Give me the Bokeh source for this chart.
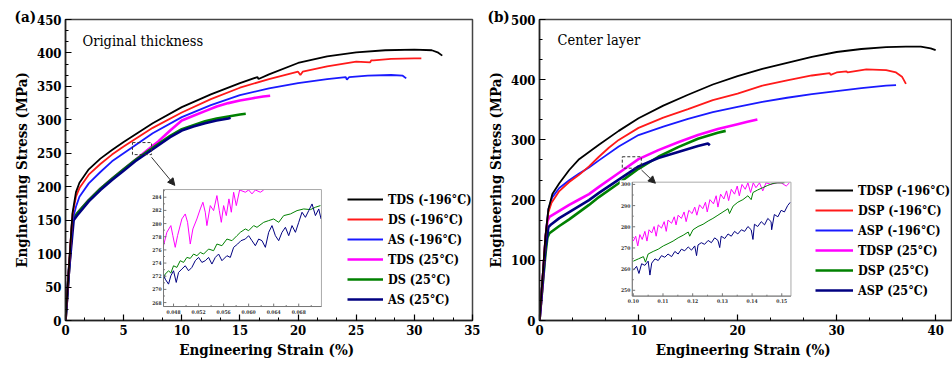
from bokeh.plotting import figure
from bokeh.layouts import row
from bokeh.models import (Range1d, Legend, LegendItem, Label, Arrow, NormalHead,
                          SingleIntervalTicker, Title)
from bokeh.core.properties import value
from bokeh.embed import file_html
from bokeh.resources import INLINE

SERIF = "DejaVu Serif Condensed"

# ---------------- data: panel (a) Original thickness ----------------
a_labels = ["TDS (-196°C)", "DS (-196°C)", "AS (-196°C)", "TDS (25°C)", "DS (25°C)", "AS (25°C)"]
a_tds196_x = [0, 0.3, 0.6, 0.9, 1.2, 2, 3, 4, 5, 7.5, 10, 12.5, 15, 16.5, 16.6, 17.5, 20, 22.5, 25, 27.5, 30, 31.5, 32.0, 32.4]
a_tds196_y = [0, 80, 160, 192, 206, 226, 242, 255, 267, 295, 319, 338, 355, 364, 361, 368, 385, 395, 401, 404, 405, 404, 401, 396]
a_ds196_x = [0, 0.3, 0.6, 0.9, 1.2, 2, 3, 4, 5, 7.5, 10, 12.5, 15, 17.5, 20, 20.2, 20.4, 22.5, 25, 26.2, 26.3, 26.5, 28, 30, 30.6]
a_ds196_y = [0, 80, 158, 185, 198, 218, 234, 248, 260, 288, 311, 331, 348, 361, 372, 367, 372, 380, 387, 386, 389, 389, 391, 392, 392]
a_as196_x = [0, 0.3, 0.6, 0.9, 1.2, 2, 3, 4, 5, 7.5, 10, 12.5, 15, 17.5, 20, 22.5, 24.1, 24.2, 24.4, 26, 28, 29, 29.3]
a_as196_y = [0, 75, 150, 170, 185, 205, 222, 238, 250, 280, 304, 322, 337, 347, 355, 361, 364, 360, 364, 366, 367, 366, 362]
a_tds25_x = [0, 0.3, 0.6, 0.8, 1, 2, 3, 4, 5, 6, 7, 8, 9, 10, 11, 12, 13, 14, 15, 16, 17, 17.6]
a_tds25_y = [0, 75, 150, 155, 160, 180, 197, 212, 226, 240, 254, 268, 284, 299, 306, 313, 320, 325, 329, 332, 335, 336]
a_ds25_x = [0, 0.3, 0.6, 0.8, 1, 2, 3, 4, 5, 6, 7, 8, 9, 10, 11, 12, 13, 14, 15, 15.5]
a_ds25_y = [0, 75, 150, 155, 160, 180, 197, 212, 226, 240, 252, 264, 276, 286, 292, 298, 302, 305, 308, 309]
a_as25_x = [0, 0.3, 0.7, 1, 2, 3, 4, 5, 6, 7, 8, 9, 10, 11, 12, 13, 14, 14.2]
a_as25_y = [0, 75, 150, 157, 178, 195, 210, 224, 238, 250, 262, 274, 284, 290, 295, 299, 302, 303]

# inset (a)
ai_magenta_x = [0.04640, 0.04693, 0.04757, 0.04789, 0.04827, 0.04864, 0.04933, 0.04987, 0.05024, 0.05067,
                0.05109, 0.05173, 0.05227, 0.05269, 0.05307, 0.05333, 0.05387, 0.05440, 0.05493, 0.05531,
                0.05563, 0.05600, 0.05643, 0.05685, 0.05723, 0.05760, 0.05803, 0.05856, 0.05947, 0.06000,
                0.06053, 0.06107, 0.06187, 0.06240]
ai_magenta_y = [276.64, 278.67, 279.69, 278.16, 276.39, 278.16, 280.70, 281.46, 280.19, 276.89,
                279.18, 280.70, 282.22, 283.24, 281.72, 279.69, 282.73, 281.97, 284.25, 281.97,
                280.19, 282.73, 281.21, 283.75, 281.72, 284.76, 282.73, 285.1, 284.76, 285.1,
                284.51, 285.1, 284.76, 285.1]
ai_green_x = [0.04640, 0.04667, 0.04720, 0.04757, 0.04800, 0.04853, 0.04907, 0.04960, 0.05013, 0.05067,
              0.05120, 0.05173, 0.05227, 0.05280, 0.05360, 0.05440, 0.05493, 0.05573, 0.05653, 0.05733,
              0.05813, 0.05867, 0.05947, 0.06000, 0.06080, 0.06133, 0.06240, 0.06320, 0.06400, 0.06480,
              0.06560, 0.06667, 0.06773, 0.06880, 0.06987, 0.07067, 0.07147]
ai_green_y = [271.56, 272.32, 272.83, 272.48, 273.59, 273.34, 274.36, 274.10, 274.86, 274.71,
              275.37, 275.12, 275.62, 275.37, 276.13, 275.88, 276.89, 276.64, 277.65, 277.40,
              278.16, 278.67, 279.18, 278.92, 279.69, 279.43, 280.19, 280.45, 280.70, 280.19,
              281.21, 281.46, 281.97, 282.22, 282.12, 282.48, 282.73]
ai_navy_x = [0.04640, 0.04667, 0.04720, 0.04757, 0.04800, 0.04843, 0.04880, 0.04933, 0.04987, 0.05040,
             0.05093, 0.05147, 0.05200, 0.05253, 0.05307, 0.05360, 0.05413, 0.05467, 0.05520, 0.05573,
             0.05653, 0.05707, 0.05760, 0.05824, 0.05877, 0.05947, 0.06000, 0.06053, 0.06107, 0.06160,
             0.06213, 0.06267, 0.06320, 0.06373, 0.06427, 0.06480, 0.06533, 0.06587, 0.06640, 0.06693,
             0.06747, 0.06800, 0.06853, 0.06907, 0.06960, 0.07013, 0.07067, 0.07120, 0.07157]
ai_navy_y = [272.32, 271.56, 270.80, 272.07, 272.83, 271.06, 272.58, 273.09, 273.59, 272.83,
             273.34, 274.36, 274.86, 274.10, 274.36, 274.86, 273.85, 274.86, 275.37, 274.36,
             275.12, 274.86, 276.39, 276.89, 277.40, 277.65, 278.16, 277.40, 276.64, 277.65,
             277.40, 276.39, 278.67, 279.69, 278.16, 277.40, 278.67, 279.43, 278.16, 279.69,
             278.67, 280.19, 281.72, 280.95, 281.97, 282.98, 281.21, 282.22, 280.70]
ai_xticks = [0.048, 0.052, 0.056, 0.060, 0.064, 0.068]
ai_yticks = [268, 270, 272, 274, 276, 278, 280, 282, 284]

# ---------------- data: panel (b) Center layer ----------------
b_labels = ["TDSP (-196°C)", "DSP (-196°C)", "ASP (-196°C)", "TDSP (25°C)", "DSP (25°C)", "ASP (25°C)"]
b_tdsp196_x = [0, 0.3, 0.6, 0.9, 1.3, 2, 3, 4, 5, 6, 8, 10, 12.5, 15, 17.5, 20, 22.5, 25, 27.5, 30, 32.5, 35, 37, 38.5, 39.5, 40]
b_tdsp196_y = [0, 70, 140, 185, 210, 228, 250, 268, 280, 292, 315, 336, 357, 375, 392, 406, 418, 428, 438, 446, 451, 454, 455, 455, 452, 449]
b_dsp196_x = [0, 0.3, 0.6, 0.9, 1.2, 2, 3, 4, 5, 6, 7, 8, 10, 12.5, 15, 17.5, 20, 22.5, 25, 27.5, 29.3, 29.4, 30, 31, 31.1, 33, 35, 36, 36.6, 37.0]
b_dsp196_y = [0, 70, 140, 180, 195, 215, 230, 242, 256, 272, 287, 300, 320, 337, 351, 366, 377, 390, 399, 407, 411, 408, 412, 414, 412, 417, 416, 412, 405, 393]
b_asp196_x = [0, 0.3, 0.6, 0.9, 1.3, 2, 3, 4, 5, 6, 8, 10, 12.5, 15, 17.5, 20, 22.5, 25, 27.5, 30, 32.5, 35, 36]
b_asp196_y = [0, 70, 140, 185, 205, 220, 233, 244, 254, 266, 289, 308, 322, 335, 346, 355, 363, 370, 376, 381, 386, 390, 391]
b_tdsp25_x = [0, 0.3, 0.6, 0.8, 1, 2, 3, 4, 5, 6, 8, 10, 12, 14, 16, 18, 20, 21, 22]
b_tdsp25_y = [0, 60, 130, 165, 172, 182, 192, 201, 210, 222, 245, 268, 283, 296, 308, 318, 326, 330, 334]
b_dsp25_x = [0, 0.3, 0.6, 0.8, 1, 2, 3, 4, 5, 6, 8, 10, 12, 14, 16, 18, 18.8]
b_dsp25_y = [0, 55, 110, 138, 145, 157, 168, 180, 192, 205, 228, 252, 272, 288, 302, 312, 315]
b_asp25_x = [0, 0.3, 0.6, 0.9, 1.2, 2, 3, 4, 5, 6, 8, 10, 12, 14, 15, 16, 17, 17.2]
b_asp25_y = [0, 60, 120, 155, 160, 170, 180, 190, 200, 212, 234, 256, 270, 280, 285, 290, 294, 291]

# inset (b)
bi_magenta_x = [0.1000, 0.1008, 0.1015, 0.1022, 0.1030, 0.1039, 0.1046, 0.1053, 0.1062, 0.1070,
                0.1077, 0.1084, 0.1095, 0.1104, 0.1111, 0.1117, 0.1129, 0.1138, 0.1144, 0.1151,
                0.1162, 0.1171, 0.1178, 0.1187, 0.1198, 0.1207, 0.1214, 0.1223, 0.1234, 0.1243,
                0.1249, 0.1258, 0.1270, 0.1279, 0.1285, 0.1294, 0.1305, 0.1314, 0.1321, 0.1330,
                0.1341, 0.1350, 0.1357, 0.1366, 0.1377, 0.1386, 0.1395, 0.1404, 0.1413, 0.1425,
                0.1436, 0.1447, 0.1464, 0.1481, 0.1498, 0.1515, 0.1526]
bi_magenta_y = [273.24, 275.54, 270.95, 276.30, 274.01, 277.83, 273.24, 278.59, 277.06, 280.12,
                275.54, 280.89, 279.36, 282.42, 277.83, 283.18, 281.65, 284.71, 280.89, 285.47,
                283.94, 287.00, 282.42, 287.77, 286.24, 289.30, 285.47, 290.37, 288.53, 291.59,
                287.00, 292.81, 290.83, 294.65, 289.30, 295.41, 293.12, 296.94, 292.35, 297.71,
                295.41, 299.24, 294.65, 300.00, 297.71, 300.76, 296.18, 300.76, 298.47, 300.76,
                296.94, 300.76, 300.00, 300.76, 300.76, 299.24, 300.76]
bi_green_x = [0.1000, 0.1017, 0.1034, 0.1041, 0.1050, 0.1067, 0.1084, 0.1101, 0.1117, 0.1134,
              0.1151, 0.1168, 0.1185, 0.1190, 0.1201, 0.1218, 0.1235, 0.1252, 0.1268, 0.1285,
              0.1302, 0.1319, 0.1324, 0.1336, 0.1352, 0.1369, 0.1386, 0.1397, 0.1403, 0.1419,
              0.1436, 0.1453, 0.1470, 0.1487, 0.1509]
bi_green_y = [263.76, 264.83, 265.90, 263.30, 267.13, 268.35, 269.42, 270.95, 272.02, 273.24,
              274.77, 276.00, 277.52, 275.54, 278.59, 280.12, 281.19, 282.72, 283.94, 285.47,
              287.00, 288.53, 286.24, 289.76, 291.59, 292.81, 294.65, 292.81, 296.18, 297.40,
              298.47, 299.54, 300.46, 300.76, 300.76]
bi_navy_x = [0.1000, 0.1011, 0.1019, 0.1028, 0.1039, 0.1050, 0.1056, 0.1062, 0.1073, 0.1084,
             0.1095, 0.1106, 0.1117, 0.1129, 0.1140, 0.1151, 0.1162, 0.1173, 0.1185, 0.1196,
             0.1207, 0.1213, 0.1218, 0.1229, 0.1240, 0.1252, 0.1263, 0.1274, 0.1285, 0.1291,
             0.1296, 0.1308, 0.1319, 0.1330, 0.1341, 0.1352, 0.1364, 0.1375, 0.1386, 0.1397,
             0.1403, 0.1408, 0.1419, 0.1431, 0.1442, 0.1453, 0.1464, 0.1466, 0.1475, 0.1487,
             0.1498, 0.1509, 0.1520, 0.1529]
bi_navy_y = [259.48, 261.31, 257.95, 262.54, 261.77, 263.76, 257.19, 262.84, 264.83, 264.07,
             266.36, 265.60, 267.13, 265.90, 268.35, 267.13, 269.42, 268.65, 270.49, 268.96,
             270.95, 266.36, 271.41, 272.48, 271.71, 273.55, 272.48, 274.77, 273.55, 270.18,
             275.54, 274.46, 276.61, 275.54, 277.83, 276.61, 278.59, 277.83, 280.12, 278.59,
             274.01, 281.19, 280.12, 282.42, 280.89, 283.94, 282.42, 278.59, 285.78, 284.71,
             287.77, 287.00, 290.06, 291.59]
bi_xticks = [0.10, 0.11, 0.12, 0.13, 0.14, 0.15]
bi_yticks = [250, 260, 270, 280, 290, 300]

COLORS = ["#000000", "#ff1a1a", "#1a1aff", "#ff00ff", "#008000", "#000080"]
WIDTHS = [1.8, 1.8, 1.8, 2.6, 2.6, 2.6]


def base_fig(width, left, right, bottom, xr, yr, xint, yint, tag, tag_offset):
    p = figure(width=width, height=370, x_range=Range1d(*xr), y_range=Range1d(*yr),
               output_backend="svg", toolbar_location=None,
               min_border_left=left, min_border_right=right, min_border_top=19,
               min_border_bottom=bottom, background_fill_color="white",
               border_fill_color="white")
    p.title = Title(text=tag, align="left", offset=tag_offset, standoff=-13,
                    text_font=SERIF, text_font_style="bold", text_font_size="15px",
                    text_color="black", vertical_align="bottom")
    p.xgrid.visible = False
    p.ygrid.visible = False
    p.xaxis.ticker = SingleIntervalTicker(interval=xint, num_minor_ticks=3)
    p.yaxis.ticker = SingleIntervalTicker(interval=yint, num_minor_ticks=3)
    for ax in (p.xaxis[0], p.yaxis[0]):
        ax.major_tick_in = 6
        ax.major_tick_out = 0
        ax.minor_tick_in = 3
        ax.minor_tick_out = 0
        ax.axis_line_width = 1.5
        ax.major_tick_line_width = 1.2
        ax.minor_tick_line_width = 1
        ax.axis_line_color = "#222222"
        ax.major_label_text_font = SERIF
        ax.major_label_text_font_style = "bold"
        ax.major_label_text_font_size = "13px"
        ax.major_label_text_color = "black"
        ax.axis_label_text_font = SERIF
        ax.axis_label_text_font_style = "bold"
        ax.axis_label_text_font_size = "15px"
        ax.axis_label_text_color = "black"
        ax.major_label_standoff = 4
        ax.axis_label_standoff = 3
    p.xaxis.axis_label = "Engineering Strain  (%)"
    p.yaxis.axis_label = "Engineering Stress (MPa)"
    p.outline_line_color = "#444444"
    p.outline_line_width = 1.5
    p.outline_line_alpha = 1
    return p


def draw_inset(p, bg, tgt_x, tgt_y, src_x, src_y, curves, xticks, yticks, xfmt, xminor, yminor, fs):
    p.quad(left=bg[0], right=bg[1], bottom=bg[2], top=bg[3], fill_color="white", line_color=None)
    sub = p.subplot(x_source=Range1d(*src_x), y_source=Range1d(*src_y),
                    x_target=Range1d(*tgt_x), y_target=Range1d(*tgt_y))
    for (cx, cy), col in curves:
        sub.line(cx, cy, line_color=col, line_width=1)
    sub.quad(left=src_x[0], right=src_x[1], bottom=src_y[0], top=src_y[1],
             fill_color=None, line_color="#aaaaaa", line_width=1)
    sub.segment(x0=[src_x[0], src_x[0]], y0=[src_y[0], src_y[0]],
                x1=[src_x[0], src_x[1]], y1=[src_y[1], src_y[0]], line_color="#777777", line_width=1)
    dx = (src_x[1] - src_x[0]) * 0.018
    dy = (src_y[1] - src_y[0]) * 0.025
    sub.segment(x0=xticks, y0=[src_y[0]] * len(xticks), x1=xticks, y1=[src_y[0] + dy] * len(xticks),
                line_color="#777777", line_width=1)
    sub.segment(x0=xminor, y0=[src_y[0]] * len(xminor), x1=xminor, y1=[src_y[0] + dy * 0.5] * len(xminor),
                line_color="#777777", line_width=1)
    sub.segment(x0=[src_x[0]] * len(yticks), y0=yticks, x1=[src_x[0] + dx] * len(yticks), y1=yticks,
                line_color="#777777", line_width=1)
    sub.segment(x0=[src_x[0]] * len(yminor), y0=yminor, x1=[src_x[0] + dx * 0.5] * len(yminor), y1=yminor,
                line_color="#777777", line_width=1)
    sub.text(x=xticks, y=[src_y[0]] * len(xticks), text=[xfmt.format(v) for v in xticks],
             text_font=value(SERIF), text_font_style="bold", text_font_size=fs,
             text_align="center", text_baseline="top", y_offset=3, text_color="#333333")
    sub.text(x=[src_x[0]] * len(yticks), y=yticks, text=[str(v) for v in yticks],
             text_font=value(SERIF), text_font_style="bold", text_font_size=fs,
             text_align="right", text_baseline="middle", x_offset=-2, text_color="#333333")


def add_legend(p, renderers, labels, loc, gw):
    items = [LegendItem(label=l, renderers=[r]) for l, r in zip(labels, renderers)]
    lg = Legend(items=items, location=loc, padding=0, margin=0, spacing=4,
                label_height=16, glyph_height=16, glyph_width=gw, label_standoff=5,
                label_text_font=SERIF, label_text_font_style="bold", label_text_font_size="12.5px",
                label_text_color="black", border_line_alpha=0, background_fill_alpha=0)
    p.add_layout(lg)


def panel_label(p, x, y, text, size, style):
    p.add_layout(Label(x=x, y=y, text=text, text_font=SERIF, text_font_style=style,
                       text_font_size=size, text_baseline="middle", text_color="black"))


# ---------------- panel (a) ----------------
pa = base_fig(480, 65, 8, 50, (0, 35), (0, 450), 5, 50, "(a)", -51)
a_series = [(a_tds196_x, a_tds196_y), (a_ds196_x, a_ds196_y), (a_as196_x, a_as196_y),
            (a_tds25_x, a_tds25_y), (a_ds25_x, a_ds25_y), (a_as25_x, a_as25_y)]
ra = [None] * 6
for i in [3, 4, 5, 2, 1, 0]:
    ra[i] = pa.line(a_series[i][0], a_series[i][1], line_color=COLORS[i], line_width=WIDTHS[i])
pa.quad(left=5.76, right=7.40, bottom=248, top=266, fill_color=None, line_color="#333333",
        line_dash="3 2", line_width=1)
pa.add_layout(Arrow(end=NormalHead(size=7, fill_color="#222222", line_color="#222222"),
                    x_start=7.4, y_start=244, x_end=9.4, y_end=202, line_color="#333333", line_width=1))
draw_inset(pa, (7.45, 22.2, 2.5, 199), (8.43, 22.01), (20.9, 195.8), (0.0464, 0.07163), (267.4, 285.17),
           [((ai_magenta_x, ai_magenta_y), "#ff00ff"), ((ai_green_x, ai_green_y), "#008000"),
            ((ai_navy_x, ai_navy_y), "#000080")],
           ai_xticks, ai_yticks, "{:.3f}",
           [0.050, 0.054, 0.058, 0.062, 0.066, 0.070],
           [269, 271, 273, 275, 277, 279, 281, 283, 285], "5px")
add_legend(pa, ra, a_labels, (282, 13), 36)
panel_label(pa, 1.46, 418.5, "Original thickness", "14.5px", "normal")

# ---------------- panel (b) ----------------
pb = base_fig(472, 59, 1, 42, (0, 41.6), (0, 500), 10, 100, "(b)", -52)
b_series = [(b_tdsp196_x, b_tdsp196_y), (b_dsp196_x, b_dsp196_y), (b_asp196_x, b_asp196_y),
            (b_tdsp25_x, b_tdsp25_y), (b_dsp25_x, b_dsp25_y), (b_asp25_x, b_asp25_y)]
rb = [None] * 6
for i in [4, 3, 5, 2, 1, 0]:
    rb[i] = pb.line(b_series[i][0], b_series[i][1], line_color=COLORS[i], line_width=WIDTHS[i])
pb.quad(left=8.36, right=10.28, bottom=253, top=272, fill_color=None, line_color="#333333",
        line_dash="3 2", line_width=1)
pb.add_layout(Arrow(end=NormalHead(size=7, fill_color="#222222", line_color="#222222"),
                    x_start=10.3, y_start=250, x_end=11.7, y_end=228, line_color="#333333", line_width=1))
draw_inset(pb, (8.1, 25.6, 14, 233), (9.37, 25.39), (40.5, 229.8), (0.09966, 0.1531), (247.25, 301.07),
           [((bi_magenta_x, bi_magenta_y), "#ff00ff"), ((bi_green_x, bi_green_y), "#008000"),
            ((bi_navy_x, bi_navy_y), "#000080")],
           bi_xticks, bi_yticks, "{:.2f}",
           [0.105, 0.115, 0.125, 0.135, 0.145],
           [255, 265, 275, 285, 295], "5px")
add_legend(pb, rb, b_labels, (276, 22), 38)
panel_label(pb, 1.81, 466, "Center layer", "14.5px", "normal")

layout = row(pa, pb)
open("out.html", "w").write(file_html(layout, INLINE))
